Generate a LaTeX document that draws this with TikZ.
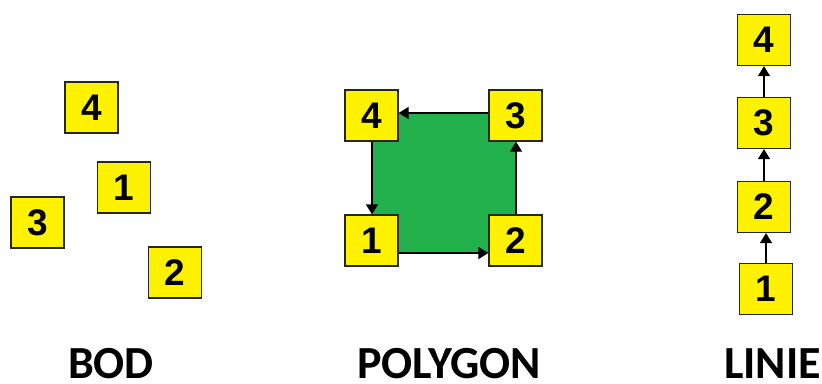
\documentclass[tikz,border=0pt]{standalone}
\usepackage{fontspec}
\setmainfont{Liberation Sans}
\newfontfamily\labelfont{Carlito}
\usetikzlibrary{arrows.meta}
\definecolor{boxyellow}{RGB}{255,242,0}
\definecolor{polygreen}{RGB}{34,177,76}
\tikzset{
  ptbox/.style={draw=black!85, line width=1.3pt, fill=boxyellow, minimum width=53pt, minimum height=51pt, inner sep=0pt, font=\fontsize{37}{37}\selectfont\bfseries},
  arr/.style={line width=1.3pt, -{Triangle[width=12pt,length=10pt]}},
  title/.style={anchor=base, inner sep=0pt, text depth=0pt, font=\labelfont\fontsize{46}{46}\selectfont\bfseries}
}
\begin{document}
\begin{tikzpicture}[x=1pt,y=-1pt]
\useasboundingbox (0,0) rectangle (822,383);
% BOD
\node[ptbox] (b4) at (91.5,107.5) {4};
\node[ptbox] (b1) at (124,187.5) {1};
\node[ptbox] (b3) at (37.5,222.5) {3};
\node[ptbox] (b2) at (175,272.5) {2};
% POLYGON
\coordinate (c4) at (372,113);
\coordinate (c3) at (516,113);
\coordinate (c2) at (516,253);
\coordinate (c1) at (372,253);
\fill[polygreen] (c1) rectangle (c3);
\node[ptbox] (p4) at (371.5,115.5) {4};
\node[ptbox] (p3) at (515.5,115.5) {3};
\node[ptbox] (p1) at (371.5,240.5) {1};
\node[ptbox] (p2) at (515.5,240.5) {2};
\draw[arr] (p3.west |- c3) -- (p4.east |- c4);
\draw[arr] (p4.south -| c4) -- (p1.north -| c1);
\draw[arr] (p1.east |- c1) -- (p2.west |- c2);
\draw[arr] (p2.north -| c2) -- (p3.south -| c3);
% LINIE
\node[ptbox] (l4) at (764,40) {4};
\node[ptbox] (l3) at (764,123) {3};
\node[ptbox] (l2) at (764,207) {2};
\node[ptbox] (l1) at (766,289) {1};
\draw[arr] (l1.north) -- (l1.north |- l2.south);
\draw[arr] (l2.north) -- (l2.north |- l3.south);
\draw[arr] (l3.north) -- (l3.north |- l4.south);
% titles
\node[title] (tb) at (111,378) {BOD};
\node[title] (tp) at (449,378) {POLYGON};
\node[title] (tl) at (772.5,378) {LINIE};
\end{tikzpicture}
\end{document}
